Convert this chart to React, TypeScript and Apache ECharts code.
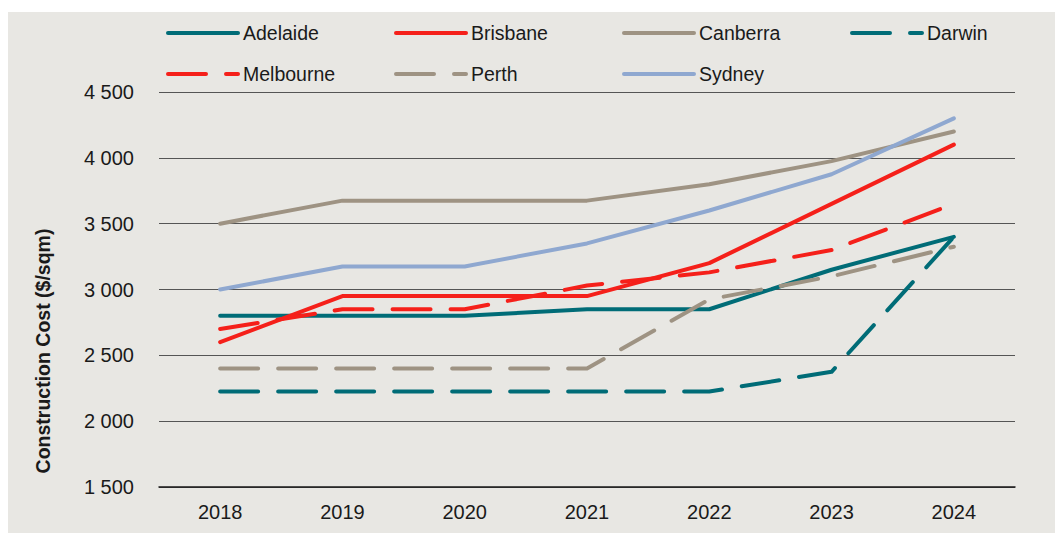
import React, { useEffect, useRef } from "react";
import * as echarts from "echarts";

const years = ["2018", "2019", "2020", "2021", "2022", "2023", "2024"];
const adelaide = [2800, 2800, 2800, 2850, 2850, 3150, 3400];
const brisbane = [2600, 2950, 2950, 2950, 3200, 3650, 4100];
const canberra = [3500, 3675, 3675, 3675, 3800, 3975, 4200];
const darwin = [2225, 2225, 2225, 2225, 2225, 2375, 3400];
const melbourne = [2700, 2850, 2850, 3030, 3130, 3300, 3650];
const perth = [2400, 2400, 2400, 2400, 2925, 3100, 3325];
const sydney = [3000, 3175, 3175, 3350, 3600, 3875, 4300];

const TEAL = "#006c77";
const RED = "#f5201a";
const TAN = "#9e9383";
const BLUE = "#8fa8d0";
const FONT = "'Liberation Sans', Arial, sans-serif";

function mk(name: string, data: number[], color: string, dashed: boolean) {
  return {
    name,
    type: "line",
    data,
    symbol: "none",
    lineStyle: {
      color,
      width: 4,
      type: dashed ? [38, 20] : "solid",
      cap: "round",
      join: "round",
    },
    itemStyle: { color },
  };
}

function fmt(v: number) {
  const th = Math.floor(v / 1000);
  const rest = String(v % 1000).padStart(3, "0");
  return `${th} ${rest}`;
}

export default function App() {
  const ref = useRef<HTMLDivElement>(null);
  useEffect(() => {
    if (!ref.current) return;
    const chart = echarts.init(ref.current, undefined, { renderer: "svg" });
    const legendCommon = {
      left: 158,
      width: 930,
      padding: 0,
      itemWidth: 70,
      itemHeight: 14,
      itemGap: 0,
      itemStyle: { opacity: 0 },
      lineStyle: { width: 4, cap: "round" },
      textStyle: {
        fontFamily: FONT,
        fontSize: 19.5,
        color: "#1a1a1a",
        width: 151,
        lineHeight: 22,
      },
    };
    chart.setOption({
      animation: false,
      backgroundColor: "#e8e7e3",
      textStyle: { fontFamily: FONT },
      legend: [
        { ...legendCommon, top: 10, data: ["Adelaide", "Brisbane", "Canberra", "Darwin"] },
        { ...legendCommon, top: 51, data: ["Melbourne", "Perth", "Sydney"] },
      ],
      grid: { left: 151, right: 40, top: 80, bottom: 46 },
      xAxis: {
        type: "category",
        data: years,
        boundaryGap: true,
        axisLine: { lineStyle: { color: "#1a1a1a", width: 1.5 } },
        axisTick: { length: 6, lineStyle: { color: "#333" } },
        axisLabel: { fontFamily: FONT, fontSize: 20, color: "#1a1a1a", margin: 15 },
      },
      yAxis: {
        type: "value",
        min: 1500,
        max: 4500,
        interval: 500,
        axisLine: { show: false },
        axisTick: { show: false },
        splitLine: { lineStyle: { color: "#555", width: 1 } },
        axisLabel: {
          fontFamily: FONT,
          fontSize: 20,
          color: "#1a1a1a",
          margin: 25,
          formatter: (v: number) => fmt(v),
        },
      },
      graphic: [
        {
          type: "text",
          x: 35,
          y: 339,
          rotation: Math.PI / 2,
          style: {
            text: "Construction Cost ($/sqm)",
            fontFamily: FONT,
            fontWeight: "bold",
            fontSize: 19.5,
            fill: "#1a1a1a",
            textAlign: "center",
            textVerticalAlign: "middle",
          },
        },
      ],
      series: [
        mk("Adelaide", adelaide, TEAL, false),
        mk("Brisbane", brisbane, RED, false),
        mk("Canberra", canberra, TAN, false),
        mk("Darwin", darwin, TEAL, true),
        mk("Melbourne", melbourne, RED, true),
        mk("Perth", perth, TAN, true),
        mk("Sydney", sydney, BLUE, false),
      ],
    });
    return () => chart.dispose();
  }, []);
  return (
    <div
      ref={ref}
      style={{ position: "fixed", left: 8, top: 12, width: 1047, height: 521 }}
    />
  );
}
